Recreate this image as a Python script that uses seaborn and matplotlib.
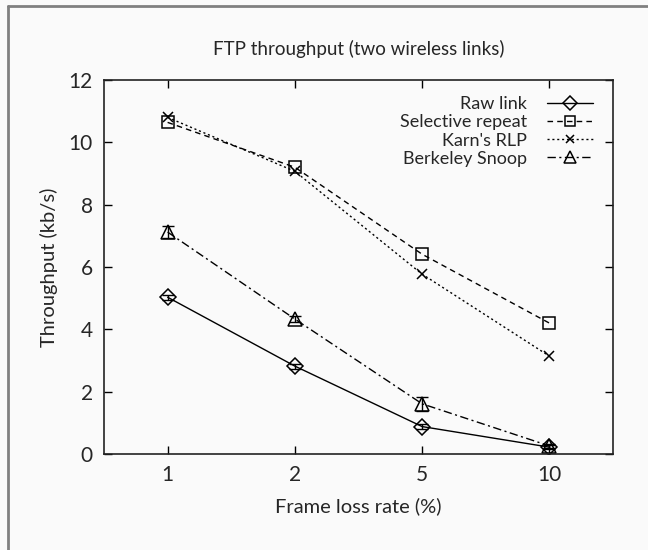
import matplotlib
matplotlib.use("Agg")
import matplotlib.pyplot as plt
import matplotlib.lines as mlines
import pandas as pd
import numpy as np
import seaborn as sns

loss_rates = ["1", "2", "5", "10"]
raw_link = [5.03, 2.82, 0.88, 0.22]
selective_repeat = [10.64, 9.2, 6.41, 4.2]
karns_rlp = [10.8, 9.07, 5.77, 3.14]
berkeley_snoop = [7.12, 4.33, 1.61, 0.26]
raw_err = [0.08, 0.08, 0.08, 0.06]
snoop_err = [0.18, 0.1, 0.22, 0.06]

names = ["Raw link", "Selective repeat", "Karn's RLP", "Berkeley Snoop"]
series = [raw_link, selective_repeat, karns_rlp, berkeley_snoop]

sns.set_style("ticks")
plt.rcParams["font.family"] = ["Lato", "DejaVu Sans"]

styles = {"Raw link": "-", "Selective repeat": (0, (4, 3)),
          "Karn's RLP": (0, (1.5, 2)), "Berkeley Snoop": (0, (6, 2.5, 1.5, 2.5))}
markers = {"Raw link": "D", "Selective repeat": "s",
           "Karn's RLP": "x", "Berkeley Snoop": "^"}
msize = {"Raw link": 8, "Selective repeat": 8, "Karn's RLP": 7, "Berkeley Snoop": 10}

fig = plt.figure(figsize=(6.48, 5.5), dpi=100, facecolor="#fafafa")
ax = fig.add_axes([104 / 648, 1 - 454 / 550, 509 / 648, 374 / 550])
ax.set_facecolor("#fafafa")

x = np.arange(len(loss_rates))
for name, vals in zip(names, series):
    df = pd.DataFrame({"pos": x, "throughput": vals})
    sns.lineplot(data=df, x="pos", y="throughput", color="black",
                 linestyle=styles[name], marker=markers[name],
                 markersize=msize[name], markerfacecolor="none",
                 markeredgecolor="black", markeredgewidth=1.1,
                 linewidth=1.0, label=name, ax=ax)

# per-point error bars
ax.errorbar(x, raw_link, yerr=raw_err, fmt="none", ecolor="black",
            elinewidth=1.0, capsize=4)
ax.errorbar(x, berkeley_snoop, yerr=snoop_err, fmt="none", ecolor="black",
            elinewidth=1.0, capsize=4)

ax.set_xlim(-0.5, 3.5)
ax.set_ylim(0, 12)
ax.set_xticks(x)
ax.set_xticklabels(loss_rates)
ax.set_yticks(range(0, 13, 2))
ax.tick_params(direction="in", length=6, width=1, top=True, right=True,
               labelsize=15, pad=8, color="black")
for s in ax.spines.values():
    s.set_linewidth(1.2)
    s.set_color("#222222")

ax.set_xlabel("Frame loss rate (%)", fontsize=14.5, labelpad=9)
ax.set_ylabel("Throughput (kb/s)", fontsize=14.5, labelpad=8)
ax.set_title("FTP throughput (two wireless links)", fontsize=13.5, pad=18)

handles = []
for name in names:
    handles.append(mlines.Line2D([], [], color="black", linewidth=1.0,
                                 linestyle=styles[name],
                                 marker=markers[name], markersize=msize[name] - 1,
                                 markerfacecolor="none", markeredgewidth=1.1,
                                 label=name))
ax.legend(handles=handles, loc="upper right", frameon=False, markerfirst=False,
          fontsize=13, handlelength=2.6, labelspacing=0.12,
          borderaxespad=0.4, handletextpad=1.1, bbox_to_anchor=(0.99, 0.995))

# frame around the figure
fig.add_artist(mlines.Line2D([8 / 648, 8 / 648], [0, 1 - 6 / 550],
                             color="#808080", linewidth=2))
fig.add_artist(mlines.Line2D([8 / 648, 1], [1 - 6 / 550, 1 - 6 / 550],
                             color="#808080", linewidth=2))

fig.savefig("out.png", dpi=100, facecolor=fig.get_facecolor())
